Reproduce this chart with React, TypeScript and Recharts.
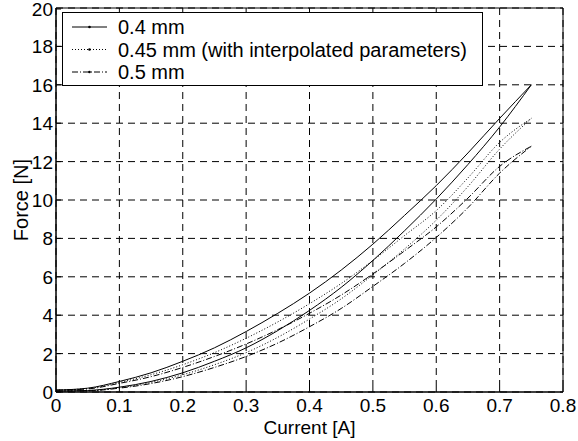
import React from "react";
import { LineChart, Line, XAxis, YAxis, CartesianGrid, ReferenceArea } from "recharts";

// current steps (A), shared by every branch
const CURRENT = [0, 0.05, 0.1, 0.15, 0.2, 0.25, 0.3, 0.35, 0.4, 0.45, 0.5, 0.55, 0.6, 0.65, 0.7, 0.75];

// force (N): upper (falling current) and lower (rising current) branches
const F_040_UPPER = [0.1, 0.2, 0.55, 1.0, 1.6, 2.3, 3.15, 4.1, 5.15, 6.35, 7.7, 9.2, 10.75, 12.45, 14.25, 16.0];
const F_040_LOWER = [0.05, 0.08, 0.25, 0.55, 1.0, 1.6, 2.3, 3.2, 4.25, 5.45, 6.85, 8.4, 10.05, 11.85, 13.8, 16.0];
const F_045_UPPER = [0.1, 0.18, 0.5, 0.9, 1.42, 2.05, 2.8, 3.65, 4.6, 5.65, 6.85, 8.15, 9.45, 11.15, 13.0, 14.25];
const F_045_LOWER = [0.05, 0.07, 0.22, 0.5, 0.9, 1.42, 2.05, 2.85, 3.8, 4.85, 6.1, 7.45, 8.95, 10.7, 12.65, 14.25];
const F_050_UPPER = [0.1, 0.16, 0.45, 0.8, 1.28, 1.85, 2.5, 3.25, 4.1, 5.05, 6.15, 7.35, 8.6, 10.1, 11.75, 12.8];
const F_050_LOWER = [0.05, 0.06, 0.2, 0.44, 0.8, 1.28, 1.85, 2.55, 3.4, 4.35, 5.5, 6.7, 8.05, 9.6, 11.4, 12.8];

const SERIES_NAMES = ["0.4 mm", "0.45 mm (with interpolated parameters)", "0.5 mm"];

const X_TICKS = [0, 0.1, 0.2, 0.3, 0.4, 0.5, 0.6, 0.7, 0.8];
const Y_TICKS = [0, 2, 4, 6, 8, 10, 12, 14, 16, 18, 20];

const FONT = "'Liberation Sans', Arial, Helvetica, sans-serif";
const DASHES = [undefined, "1 2", "6 2 1 2"];

const toPoints = (vals: number[]) => CURRENT.map((i, k) => ({ i, f: vals[k] }));

const series = [
  { name: SERIES_NAMES[0], upper: toPoints(F_040_UPPER), lower: toPoints(F_040_LOWER), dash: DASHES[0] },
  { name: SERIES_NAMES[1], upper: toPoints(F_045_UPPER), lower: toPoints(F_045_LOWER), dash: DASHES[1] },
  { name: SERIES_NAMES[2], upper: toPoints(F_050_UPPER), lower: toPoints(F_050_LOWER), dash: DASHES[2] },
];

const fmt = (v: number) => String(Math.round(v * 10) / 10);

const BottomTick = (props: any) => {
  const { x, y, payload } = props;
  return (
    <g>
      <line x1={x} y1={y} x2={x} y2={y - 5} stroke="#000" />
      <text x={x} y={y + 20} textAnchor="middle" fontSize={19} fontFamily={FONT} fill="#000">
        {fmt(payload.value)}
      </text>
    </g>
  );
};

const LeftTick = (props: any) => {
  const { x, y, payload } = props;
  return (
    <g>
      <line x1={x} y1={y} x2={x + 5} y2={y} stroke="#000" />
      <text x={x - 3} y={y + 7} textAnchor="end" fontSize={19} fontFamily={FONT} fill="#000">
        {payload.value}
      </text>
    </g>
  );
};

const TopTick = (props: any) => {
  const { x, y } = props;
  return <line x1={x} y1={y} x2={x} y2={y + 5} stroke="#000" />;
};

const RightTick = (props: any) => {
  const { x, y } = props;
  return <line x1={x} y1={y} x2={x - 5} y2={y} stroke="#000" />;
};

const Legend = () => (
  <svg width={422} height={75} style={{ position: "absolute", left: 62, top: 12 }}>
    <rect x={0.5} y={0.5} width={420} height={73} fill="#fff" stroke="#000" />
    {series.map((s, k) => {
      const cy = 15 + k * 22.5;
      return (
        <g key={s.name}>
          <line x1={10} y1={cy} x2={45} y2={cy} stroke="#000" strokeDasharray={s.dash} />
          <circle cx={27.5} cy={cy} r={1.3} fill="#000" />
          <text x={56} y={cy + 7} fontSize={20} fontFamily={FONT} fill="#000">
            {s.name}
          </text>
        </g>
      );
    })}
  </svg>
);

export default function App() {
  return (
    <div style={{ position: "absolute", left: 0, top: 0, width: 578, height: 441, background: "#fff" }}>
      <LineChart width={578} height={441} margin={{ top: 8, right: 15, bottom: 0, left: 0 }}>
        <CartesianGrid stroke="#000" strokeDasharray="7 5" />
        <XAxis
          dataKey="i"
          type="number"
          domain={[0, 0.8]}
          ticks={X_TICKS}
          height={49}
          tickSize={0}
          tickMargin={0}
          tickLine={false}
          tick={<BottomTick />}
          axisLine={{ stroke: "#000" }}
          label={{
            content: (p: any) => {
              const vb = p.viewBox;
              return (
                <text x={vb.x + vb.width / 2} y={vb.y + vb.height - 7} textAnchor="middle" fontSize={19} fontFamily={FONT} fill="#000">
                  Current [A]
                </text>
              );
            },
          }}
        />
        <XAxis
          xAxisId="top"
          orientation="top"
          type="number"
          domain={[0, 0.8]}
          ticks={X_TICKS}
          height={0}
          tickSize={0}
          tickMargin={0}
          tickLine={false}
          tick={<TopTick />}
          axisLine={{ stroke: "#000" }}
        />
        <YAxis
          type="number"
          domain={[0, 20]}
          ticks={Y_TICKS}
          width={56}
          tickSize={0}
          tickMargin={0}
          tickLine={false}
          tick={<LeftTick />}
          axisLine={{ stroke: "#000" }}
          label={{
            content: (p: any) => {
              const vb = p.viewBox;
              const cx = vb.x + 28;
              const cy = vb.y + vb.height / 2;
              return (
                <text x={cx} y={cy} transform={`rotate(-90 ${cx} ${cy})`} textAnchor="middle" fontSize={20} fontFamily={FONT} fill="#000">
                  Force [N]
                </text>
              );
            },
          }}
        />
        <YAxis
          yAxisId="right"
          orientation="right"
          type="number"
          domain={[0, 20]}
          ticks={Y_TICKS}
          width={0}
          tickSize={0}
          tickMargin={0}
          tickLine={false}
          tick={<RightTick />}
          axisLine={{ stroke: "#000" }}
        />
        <ReferenceArea x1={0} x2={0.8} y1={0} y2={20} fill="none" stroke="#000" />
        {series.flatMap((s) => [
          <Line
            key={s.name + "-up"}
            data={s.upper}
            dataKey="f"
            type="monotone"
            stroke="#000"
            strokeWidth={1}
            strokeDasharray={s.dash}
            dot={false}
            isAnimationActive={false}
          />,
          <Line
            key={s.name + "-low"}
            data={s.lower}
            dataKey="f"
            type="monotone"
            stroke="#000"
            strokeWidth={1}
            strokeDasharray={s.dash}
            dot={false}
            isAnimationActive={false}
          />,
        ])}
      </LineChart>
      <Legend />
    </div>
  );
}
